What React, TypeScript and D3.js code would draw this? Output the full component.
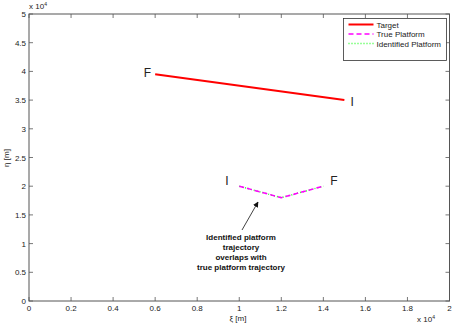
import React from "react";
import * as d3 from "d3";

const xTicks = [0, 0.2, 0.4, 0.6, 0.8, 1, 1.2, 1.4, 1.6, 1.8, 2];
const yTicks = [0, 0.5, 1, 1.5, 2, 2.5, 3, 3.5, 4, 4.5, 5];

const targetXi = [6000, 15000];
const targetEta = [39500, 35000];
const trueXi = [10000, 12000, 14000];
const trueEta = [20000, 18000, 20000];
const identXi = [10000, 12000, 14000];
const identEta = [20000, 18000, 20000];

const legendItems = ["Target", "True Platform", "Identified Platform"];

const W = 452, H = 326;
const margin = { top: 14, right: 2.5, bottom: 25, left: 29 };

export default function App() {
  const x = d3.scaleLinear().domain([0, 20000]).range([margin.left, W - margin.right]);
  const y = d3.scaleLinear().domain([0, 50000]).range([H - margin.bottom, margin.top]);
  const line = d3.line<[number, number]>().x(d => x(d[0])).y(d => y(d[1]));

  const target = targetXi.map((v, i) => [v, targetEta[i]] as [number, number]);
  const truep = trueXi.map((v, i) => [v, trueEta[i]] as [number, number]);
  const ident = identXi.map((v, i) => [v, identEta[i]] as [number, number]);

  const x0 = margin.left, x1 = W - margin.right, y0 = H - margin.bottom, y1 = margin.top;
  const font = "Liberation Sans, Arial, sans-serif";
  const axisCol = "#555";

  const lx = 343.5, ly = 18.5, lw = 103, lh = 42;

  return (
    <svg width={W} height={H} style={{ position: "absolute", left: 0, top: 0, background: "#fff" }}>
      <rect x={0} y={0} width={W} height={H} fill="#fff" />
      <g fontFamily={font} fontSize={8} fill="#222">
        {xTicks.map(t => (
          <g key={"x" + t}>
            <line x1={x(t * 10000)} x2={x(t * 10000)} y1={y0} y2={y0 - 4} stroke={axisCol} strokeWidth={0.8} />
            <line x1={x(t * 10000)} x2={x(t * 10000)} y1={y1} y2={y1 + 4} stroke={axisCol} strokeWidth={0.8} />
            <text x={x(t * 10000)} y={y0 + 10} textAnchor="middle">{t}</text>
          </g>
        ))}
        {yTicks.map(t => (
          <g key={"y" + t}>
            <line x1={x0} x2={x0 + 4} y1={y(t * 10000)} y2={y(t * 10000)} stroke={axisCol} strokeWidth={0.8} />
            <line x1={x1} x2={x1 - 4} y1={y(t * 10000)} y2={y(t * 10000)} stroke={axisCol} strokeWidth={0.8} />
            <text x={x0 - 3} y={y(t * 10000) + 3} textAnchor="end">{t}</text>
          </g>
        ))}
        <rect x={x0} y={y1} width={x1 - x0} height={y0 - y1} fill="none" stroke={axisCol} strokeWidth={1} />
        <text x={29} y={9}>x 10<tspan dy={-3} fontSize={5}>4</tspan></text>
        <text x={417} y={322}>x 10<tspan dy={-3} fontSize={5}>4</tspan></text>
        <text x={238} y={321} textAnchor="middle">ξ [m]</text>
        <text transform={`translate(9,158) rotate(-90)`} textAnchor="middle">η [m]</text>
      </g>

      <path d={line(target) || ""} fill="none" stroke="#ff0000" strokeWidth={2} />
      <path d={line(ident) || ""} fill="none" stroke="#33ff33" strokeWidth={1.5} strokeDasharray="1 2" />
      <path d={line(truep) || ""} fill="none" stroke="#ff00ff" strokeWidth={1.5} strokeDasharray="5 3" />

      <g fontFamily={font} fontSize={12} fill="#222">
        <text x={x(targetXi[0]) - 4} y={y(targetEta[0]) + 3} textAnchor="end">F</text>
        <text x={x(targetXi[1]) + 6} y={y(targetEta[1]) + 6}>I</text>
        <text x={x(trueXi[0]) - 14} y={y(trueEta[0]) - 1}>I</text>
        <text x={x(trueXi[2]) + 7} y={y(trueEta[2]) - 1}>F</text>
      </g>

      <defs>
        <marker id="ah" viewBox="0 0 10 10" refX={9} refY={5} markerWidth={7} markerHeight={7} orient="auto">
          <path d="M0,0 L10,5 L0,10 z" fill="#111" />
        </marker>
      </defs>
      <line x1={242} y1={230} x2={258} y2={202} stroke="#111" strokeWidth={0.8} markerEnd="url(#ah)" />
      <g fontFamily={font} fontSize={8} fontWeight="bold" fill="#111" textAnchor="middle">
        <text x={241} y={239.5}>Identified platform</text>
        <text x={241} y={249.5}>trajectory</text>
        <text x={241} y={259.5}>overlaps with</text>
        <text x={241} y={269.5}>true platform trajectory</text>
      </g>

      <g fontFamily={font} fontSize={8} fill="#222">
        <rect x={lx} y={ly} width={lw} height={lh} fill="#fff" stroke="#333" strokeWidth={0.8} />
        {legendItems.map((name, i) => {
          const yy = ly + 6 + i * 9.5;
          const stroke = i === 0 ? "#ff0000" : i === 1 ? "#ff00ff" : "#33ff33";
          const dash = i === 0 ? undefined : i === 1 ? "5 3" : "1 2";
          return (
            <g key={name}>
              <line x1={lx + 5} x2={lx + 30} y1={yy} y2={yy} stroke={stroke} strokeWidth={i === 0 ? 2 : 1.5} strokeDasharray={dash} />
              <text x={lx + 33} y={yy + 3}>{name}</text>
            </g>
          );
        })}
      </g>
    </svg>
  );
}
